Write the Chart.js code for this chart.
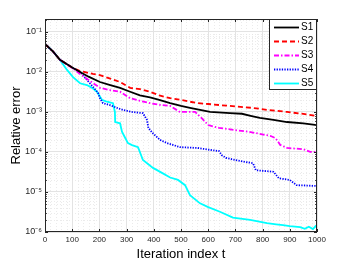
<!DOCTYPE html>
<html>
<head>
<meta charset="utf-8">
<script src="https://cdn.jsdelivr.net/npm/chart.js@4/dist/chart.umd.min.js"></script>
<style>
html,body{margin:0;padding:0;background:#fff;}
#wrap{width:350px;height:263px;position:relative;}
</style>
</head>
<body>
<div id="wrap"><canvas id="c" width="350" height="263"></canvas></div>
<script>
// ---- data ----
const seriesNames = ['S1', 'S2', 'S3', 'S4', 'S5'];

const s1T = [0, 30, 55, 100, 129, 160, 202, 240, 276, 313, 349, 386, 420, 460, 500, 533, 570, 607, 680, 724, 760, 790, 840, 890, 950, 1000];
const s1V = [5.0e-2, 3.2e-2, 2.0e-2, 1.29e-2, 1.0e-2, 7.6e-3, 5.6e-3, 4.7e-3, 4.0e-3, 3.2e-3, 2.6e-3, 2.3e-3, 2.0e-3, 1.66e-3, 1.41e-3, 1.26e-3, 1.12e-3, 1.0e-3, 9.3e-4, 9.0e-4, 7.9e-4, 7.1e-4, 6.3e-4, 5.6e-4, 5.2e-4, 4.7e-4];

const s2T = [0, 30, 55, 100, 129, 176, 202, 240, 276, 313, 349, 386, 420, 460, 500, 559, 600, 644, 680, 765, 820, 890, 950, 1000];
const s2V = [5.0e-2, 3.2e-2, 2.0e-2, 1.29e-2, 1.05e-2, 8.9e-3, 8.3e-3, 6.8e-3, 5.6e-3, 4.0e-3, 3.7e-3, 3.2e-3, 2.6e-3, 2.2e-3, 2.0e-3, 1.66e-3, 1.58e-3, 1.48e-3, 1.41e-3, 1.26e-3, 1.12e-3, 1.0e-3, 8.9e-4, 7.9e-4];

const s3T = [0, 30, 55, 100, 129, 160, 202, 240, 276, 313, 349, 386, 420, 460, 496, 552, 575, 600, 640, 700, 750, 830, 848, 865, 890, 950, 975, 1000];
const s3V = [5.0e-2, 3.2e-2, 2.0e-2, 1.26e-2, 8.9e-3, 6.3e-3, 4.0e-3, 3.5e-3, 3.2e-3, 2.2e-3, 1.9e-3, 1.66e-3, 1.51e-3, 1.41e-3, 1.0e-3, 1.0e-3, 7.1e-4, 4.7e-4, 4.0e-4, 3.5e-4, 3.2e-4, 2.5e-4, 2.2e-4, 1.5e-4, 1.26e-4, 1.17e-4, 1.0e-4, 1.0e-4];

const s4T = [0, 30, 55, 100, 129, 165, 180, 195, 202, 213, 239, 265, 287, 320, 360, 375, 380, 395, 423, 449, 496, 560, 610, 640, 650, 665, 700, 765, 775, 840, 860, 900, 925, 1000];
const s4V = [5.0e-2, 3.2e-2, 2.0e-2, 1.29e-2, 1.0e-2, 5.2e-3, 4.0e-3, 3.0e-3, 2.2e-3, 1.66e-3, 1.48e-3, 1.26e-3, 1.12e-3, 1.0e-3, 9.3e-4, 6.3e-4, 4.0e-4, 3.0e-4, 2.0e-4, 1.66e-4, 1.32e-4, 1.26e-4, 1.12e-4, 1.05e-4, 8.3e-5, 7.1e-5, 6.3e-5, 5.2e-5, 3.5e-5, 3.2e-5, 2.2e-5, 2.0e-5, 1.48e-5, 1.41e-5];

const s5T = [0, 30, 55, 81, 103, 129, 154, 173, 191, 210, 228, 250, 257, 258, 276, 283, 294, 305, 320, 342, 360, 397, 430, 460, 489, 515, 533, 570, 600, 643, 691, 754, 816, 850, 875, 900, 938, 955, 970, 985, 995, 1000];
const s5V = [5.0e-2, 3.2e-2, 2.0e-2, 1.12e-2, 7.4e-3, 5.2e-3, 4.7e-3, 4.0e-3, 3.2e-3, 2.0e-3, 1.8e-3, 1.66e-3, 1.0e-3, 5.6e-4, 5.2e-4, 3.2e-4, 2.3e-4, 1.66e-4, 1.48e-4, 1.32e-4, 6.3e-5, 4.0e-5, 3.0e-5, 2.3e-5, 2.0e-5, 1.48e-5, 8.3e-6, 5.2e-6, 4.2e-6, 3.2e-6, 2.3e-6, 2.0e-6, 1.66e-6, 1.55e-6, 1.48e-6, 1.40e-6, 1.32e-6, 1.20e-6, 1.35e-6, 1.18e-6, 1.40e-6, 1.30e-6];

const xTickValues = [0, 100, 200, 300, 400, 500, 600, 700, 800, 900, 1000];
const xTickLabels = ['0', '100', '200', '300', '400', '500', '600', '700', '800', '900', '1000'];
const yTickValues = [1e-6, 1e-5, 1e-4, 1e-3, 1e-2, 1e-1];
const yTickLabels = ['10\u207B\u2076', '10\u207B\u2075', '10\u207B\u2074', '10\u207B\u00B3', '10\u207B\u00B2', '10\u207B\u00B9'];

const xTitle = 'Iteration index t';
const yTitle = 'Relative error';

// ---- styles ----
const styles = [
  {color: '#000000', dash: [], width: 1.8},
  {color: '#ff0000', dash: [5, 3], width: 1.8},
  {color: '#ff00ff', dash: [5, 2, 1.5, 2], width: 1.8},
  {color: '#0000ff', dash: [1.3, 1.3], width: 1.8},
  {color: '#00ffff', dash: [], width: 1.8}
];

const allT = [s1T, s2T, s3T, s4T, s5T];
const allV = [s1V, s2V, s3V, s4V, s5V];

const datasets = seriesNames.map((name, i) => ({
  label: name,
  data: allT[i].map((t, k) => ({x: t, y: allV[i][k]})),
  borderColor: styles[i].color,
  borderDash: styles[i].dash,
  borderWidth: styles[i].width,
  pointRadius: 0,
  fill: false,
  tension: 0
}));
const FONT = '"Liberation Sans", Arial, Helvetica, sans-serif';

const gridPlugin = {
  id: 'minorGrid',
  beforeDatasetsDraw(chart) {
    const {ctx, chartArea: a, scales: {x, y}} = chart;
    ctx.save();
    ctx.strokeStyle = '#e2e2e2';
    ctx.lineWidth = 0.7;
    ctx.setLineDash([1, 2]);
    for (let k = -7; k <= 0; k++) {
      for (let m = 2; m <= 9; m++) {
        const v = m * Math.pow(10, k);
        if (v <= y.min || v >= y.max) continue;
        const py = Math.round(y.getPixelForValue(v)) + 0.5;
        ctx.beginPath(); ctx.moveTo(a.left, py); ctx.lineTo(a.right, py); ctx.stroke();
      }
    }
    for (let t = 0; t <= 1000; t += 20) {
      if (t % 100 === 0) continue;
      const px = Math.round(x.getPixelForValue(t)) + 0.5;
      ctx.beginPath(); ctx.moveTo(px, a.top); ctx.lineTo(px, a.bottom); ctx.stroke();
    }
    ctx.restore();
  },
  afterDatasetsDraw(chart) {
    const {ctx, chartArea: a, scales: {x, y}} = chart;
    ctx.save();
    ctx.strokeStyle = '#262626';
    ctx.lineWidth = 1;
    ctx.setLineDash([]);
    ctx.strokeRect(a.left + 0.5, a.top + 0.5, a.right - a.left - 1, a.bottom - a.top - 1);
    ctx.beginPath();
    xTickValues.forEach(t => {
      const px = Math.round(x.getPixelForValue(t)) + 0.5;
      ctx.moveTo(px, a.bottom); ctx.lineTo(px, a.bottom - 3);
      ctx.moveTo(px, a.top); ctx.lineTo(px, a.top + 3);
    });
    for (let k = -7; k <= 0; k++) {
      for (let m = 1; m <= 9; m++) {
        const v = m * Math.pow(10, k);
        if (v < y.min || v > y.max) continue;
        const len = m === 1 ? 3 : 1.8;
        const py = Math.round(y.getPixelForValue(v)) + 0.5;
        ctx.moveTo(a.left, py); ctx.lineTo(a.left + len, py);
        ctx.moveTo(a.right, py); ctx.lineTo(a.right - len, py);
      }
    }
    ctx.stroke();
    ctx.restore();
  },
  afterDraw(chart) {
    const {ctx, chartArea: a} = chart;
    const bw = 48, bh = 71;
    const bx = a.right - bw, by = a.top;
    ctx.save();
    ctx.fillStyle = '#ffffff';
    ctx.fillRect(bx, by, bw, bh);
    ctx.strokeStyle = '#262626';
    ctx.lineWidth = 1;
    ctx.setLineDash([]);
    ctx.strokeRect(bx + 0.5, by + 0.5, bw - 1, bh - 1);
    ctx.font = '10px ' + FONT;
    ctx.textBaseline = 'middle';
    ctx.textAlign = 'left';
    chart.data.datasets.forEach((ds, i) => {
      const ly = by + 8 + i * 14;
      ctx.strokeStyle = ds.borderColor;
      ctx.lineWidth = ds.borderWidth;
      ctx.setLineDash(ds.borderDash);
      ctx.beginPath(); ctx.moveTo(bx + 5, ly + 0.5); ctx.lineTo(bx + 30, ly + 0.5); ctx.stroke();
      ctx.setLineDash([]);
      ctx.fillStyle = '#000000';
      ctx.fillText(ds.label, bx + 32, ly + 0.5);
    });
    ctx.restore();
  }
};

new Chart(document.getElementById('c'), {
  type: 'line',
  data: {datasets},
  options: {
    responsive: false,
    animation: false,
    devicePixelRatio: 1,
    layout: {padding: {top: 19, right: 33, left: 0, bottom: 0}},
    plugins: {legend: {display: false}, tooltip: {enabled: false}},
    scales: {
      x: {
        type: 'linear', min: 0, max: 1000,
        afterBuildTicks: s => { s.ticks = xTickValues.map(v => ({value: v})); },
        ticks: {font: {size: 8, family: FONT}, color: '#262626', padding: 3, maxRotation: 0, autoSkip: false,
                callback: (v, i) => xTickLabels[i]},
        grid: {color: '#e3e3e3', drawTicks: false, lineWidth: 1},
        border: {display: false},
        title: {display: true, text: xTitle, font: {size: 13, family: FONT}, color: '#000000', padding: {top: 0, bottom: 1}},
        afterFit: s => { s.height = 31; }
      },
      y: {
        type: 'logarithmic', min: 1e-6, max: 0.21,
        afterBuildTicks: s => { s.ticks = yTickValues.map(v => ({value: v, major: true})); },
        ticks: {font: {size: 9, family: FONT}, color: '#262626', padding: 3, autoSkip: false,
                callback: (v, i) => yTickLabels[i]},
        grid: {color: '#e3e3e3', drawTicks: false, lineWidth: 1},
        border: {display: false},
        title: {display: true, text: yTitle, font: {size: 13, family: FONT}, color: '#000000', padding: {top: 9, bottom: 0}},
        afterFit: s => { s.width = 45; }
      }
    }
  },
  plugins: [gridPlugin]
});
</script>
</body>
</html>
